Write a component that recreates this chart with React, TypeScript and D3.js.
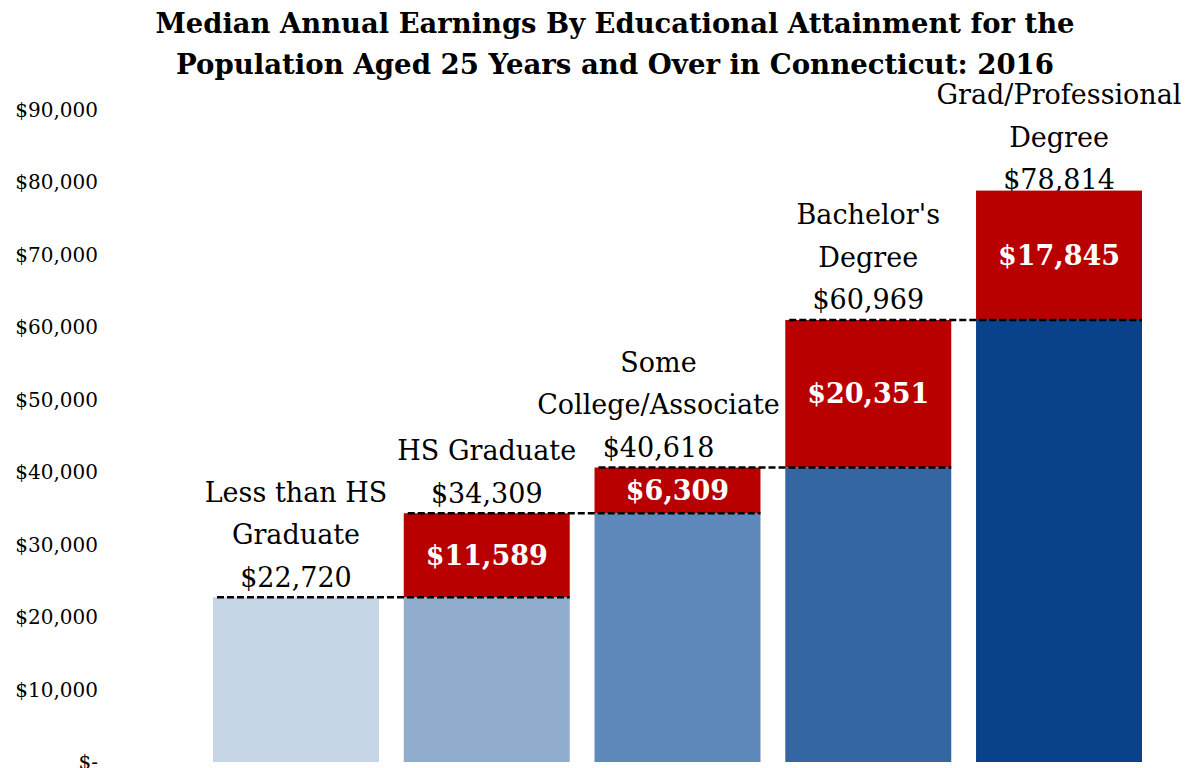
import React from "react";
import * as d3 from "d3";

const categories = [
  ["Less than HS", "Graduate"],
  ["HS Graduate"],
  ["Some", "College/Associate"],
  ["Bachelor's", "Degree"],
  ["Grad/Professional", "Degree"],
];
const totals = [22720, 34309, 40618, 60969, 78814];
const increments = [0, 11589, 6309, 20351, 17845];
const yTicks = [0, 10000, 20000, 30000, 40000, 50000, 60000, 70000, 80000, 90000];
const titleLines = [
  "Median Annual Earnings By Educational Attainment for the",
  "Population Aged 25 Years and Over in Connecticut: 2016",
];

const baseColors = ["#c6d5e6", "#90adce", "#5f88bb", "#3466a2", "#0a418b"];
const red = "#b90000";
const font = "'DejaVu Serif', serif";

const width = 1186;
const height = 768;

export default function App() {
  const ref = React.useRef<SVGSVGElement>(null);

  React.useEffect(() => {
    const svg = d3.select(ref.current);
    svg.selectAll("*").remove();

    const rows = totals.map((total, i) => ({
      i,
      total,
      inc: increments[i],
      base: total - increments[i],
      lines: categories[i],
    }));
    const steps = rows.filter((d) => d.inc > 0);

    const x = d3
      .scaleBand<number>()
      .domain(d3.range(totals.length))
      .range([200.6, 1154.4])
      .paddingInner(0.13)
      .paddingOuter(0.065);

    const y = d3.scaleLinear().domain([0, 90000]).range([762, 109.5]);

    const fmt = (v: number) => (v === 0 ? "$-" : "$" + d3.format(",")(v));

    // title
    svg.append("g")
      .selectAll("text")
      .data(titleLines)
      .join("text")
      .attr("x", 615)
      .attr("y", (d, i) => 33 + i * 41)
      .attr("text-anchor", "middle")
      .attr("font-family", font)
      .attr("font-weight", "bold")
      .attr("font-size", 27.3)
      .attr("textLength", (d, i) => (i === 0 ? 919 : 878))
      .attr("lengthAdjust", "spacingAndGlyphs")
      .text((d) => d);

    // y axis labels, no axis line
    svg.append("g")
      .selectAll("text")
      .data(yTicks)
      .join("text")
      .attr("x", 98)
      .attr("y", (d) => y(d))
      .attr("dy", "0.35em")
      .attr("text-anchor", "end")
      .attr("font-family", font)
      .attr("font-size", 20)
      .text(fmt);

    // category labels (drawn under bars, the top one is partly covered like the original)
    const lineH = 42.5;
    const labels = svg.append("g")
      .attr("font-family", font)
      .attr("font-size", 27)
      .attr("text-anchor", "middle");
    rows.forEach((r) => {
      const lines = [...r.lines, fmt(r.total)];
      const n = lines.length;
      const last = Math.max(y(r.total) - 20, 95 + (n - 1) * lineH);
      const cx = x(r.i)! + x.bandwidth() / 2 + (r.i === 2 ? -19 : 0);
      labels.append("g")
        .selectAll("text")
        .data(lines)
        .join("text")
        .attr("x", cx)
        .attr("y", (d, j) => last - (n - 1 - j) * lineH)
        .attr("dy", "0.35em")
        .text((d) => d);
    });

    // base bars
    svg.append("g")
      .selectAll("rect")
      .data(rows)
      .join("rect")
      .attr("x", (d) => x(d.i)!)
      .attr("width", x.bandwidth())
      .attr("y", (d) => y(d.base))
      .attr("height", (d) => y(0) - y(d.base))
      .attr("fill", (d) => baseColors[d.i]);

    // increments
    svg.append("g")
      .selectAll("rect")
      .data(steps)
      .join("rect")
      .attr("x", (d) => x(d.i)!)
      .attr("width", x.bandwidth())
      .attr("y", (d) => y(d.total))
      .attr("height", (d) => y(d.base) - y(d.total))
      .attr("fill", red);

    // dashed connectors
    svg.append("g")
      .selectAll("line")
      .data(rows.slice(0, -1))
      .join("line")
      .attr("x1", (d) => x(d.i)! + 4)
      .attr("x2", (d) => x(d.i + 1)! + x.bandwidth())
      .attr("y1", (d) => y(d.total))
      .attr("y2", (d) => y(d.total))
      .attr("stroke", "#000")
      .attr("stroke-width", 2.5)
      .attr("stroke-dasharray", "7,3");

    // increment values
    svg.append("g")
      .selectAll("text")
      .data(steps)
      .join("text")
      .attr("x", (d) => x(d.i)! + x.bandwidth() / 2)
      .attr("y", (d) => (y(d.total) + y(d.base)) / 2)
      .attr("dy", "0.35em")
      .attr("text-anchor", "middle")
      .attr("font-family", font)
      .attr("font-weight", "bold")
      .attr("font-size", 27)
      .attr("fill", "#fff")
      .text((d) => fmt(d.inc));
  }, []);

  return (
    <svg
      ref={ref}
      width={width}
      height={height}
      style={{ position: "absolute", left: 0, top: 0, background: "#fff" }}
    />
  );
}
